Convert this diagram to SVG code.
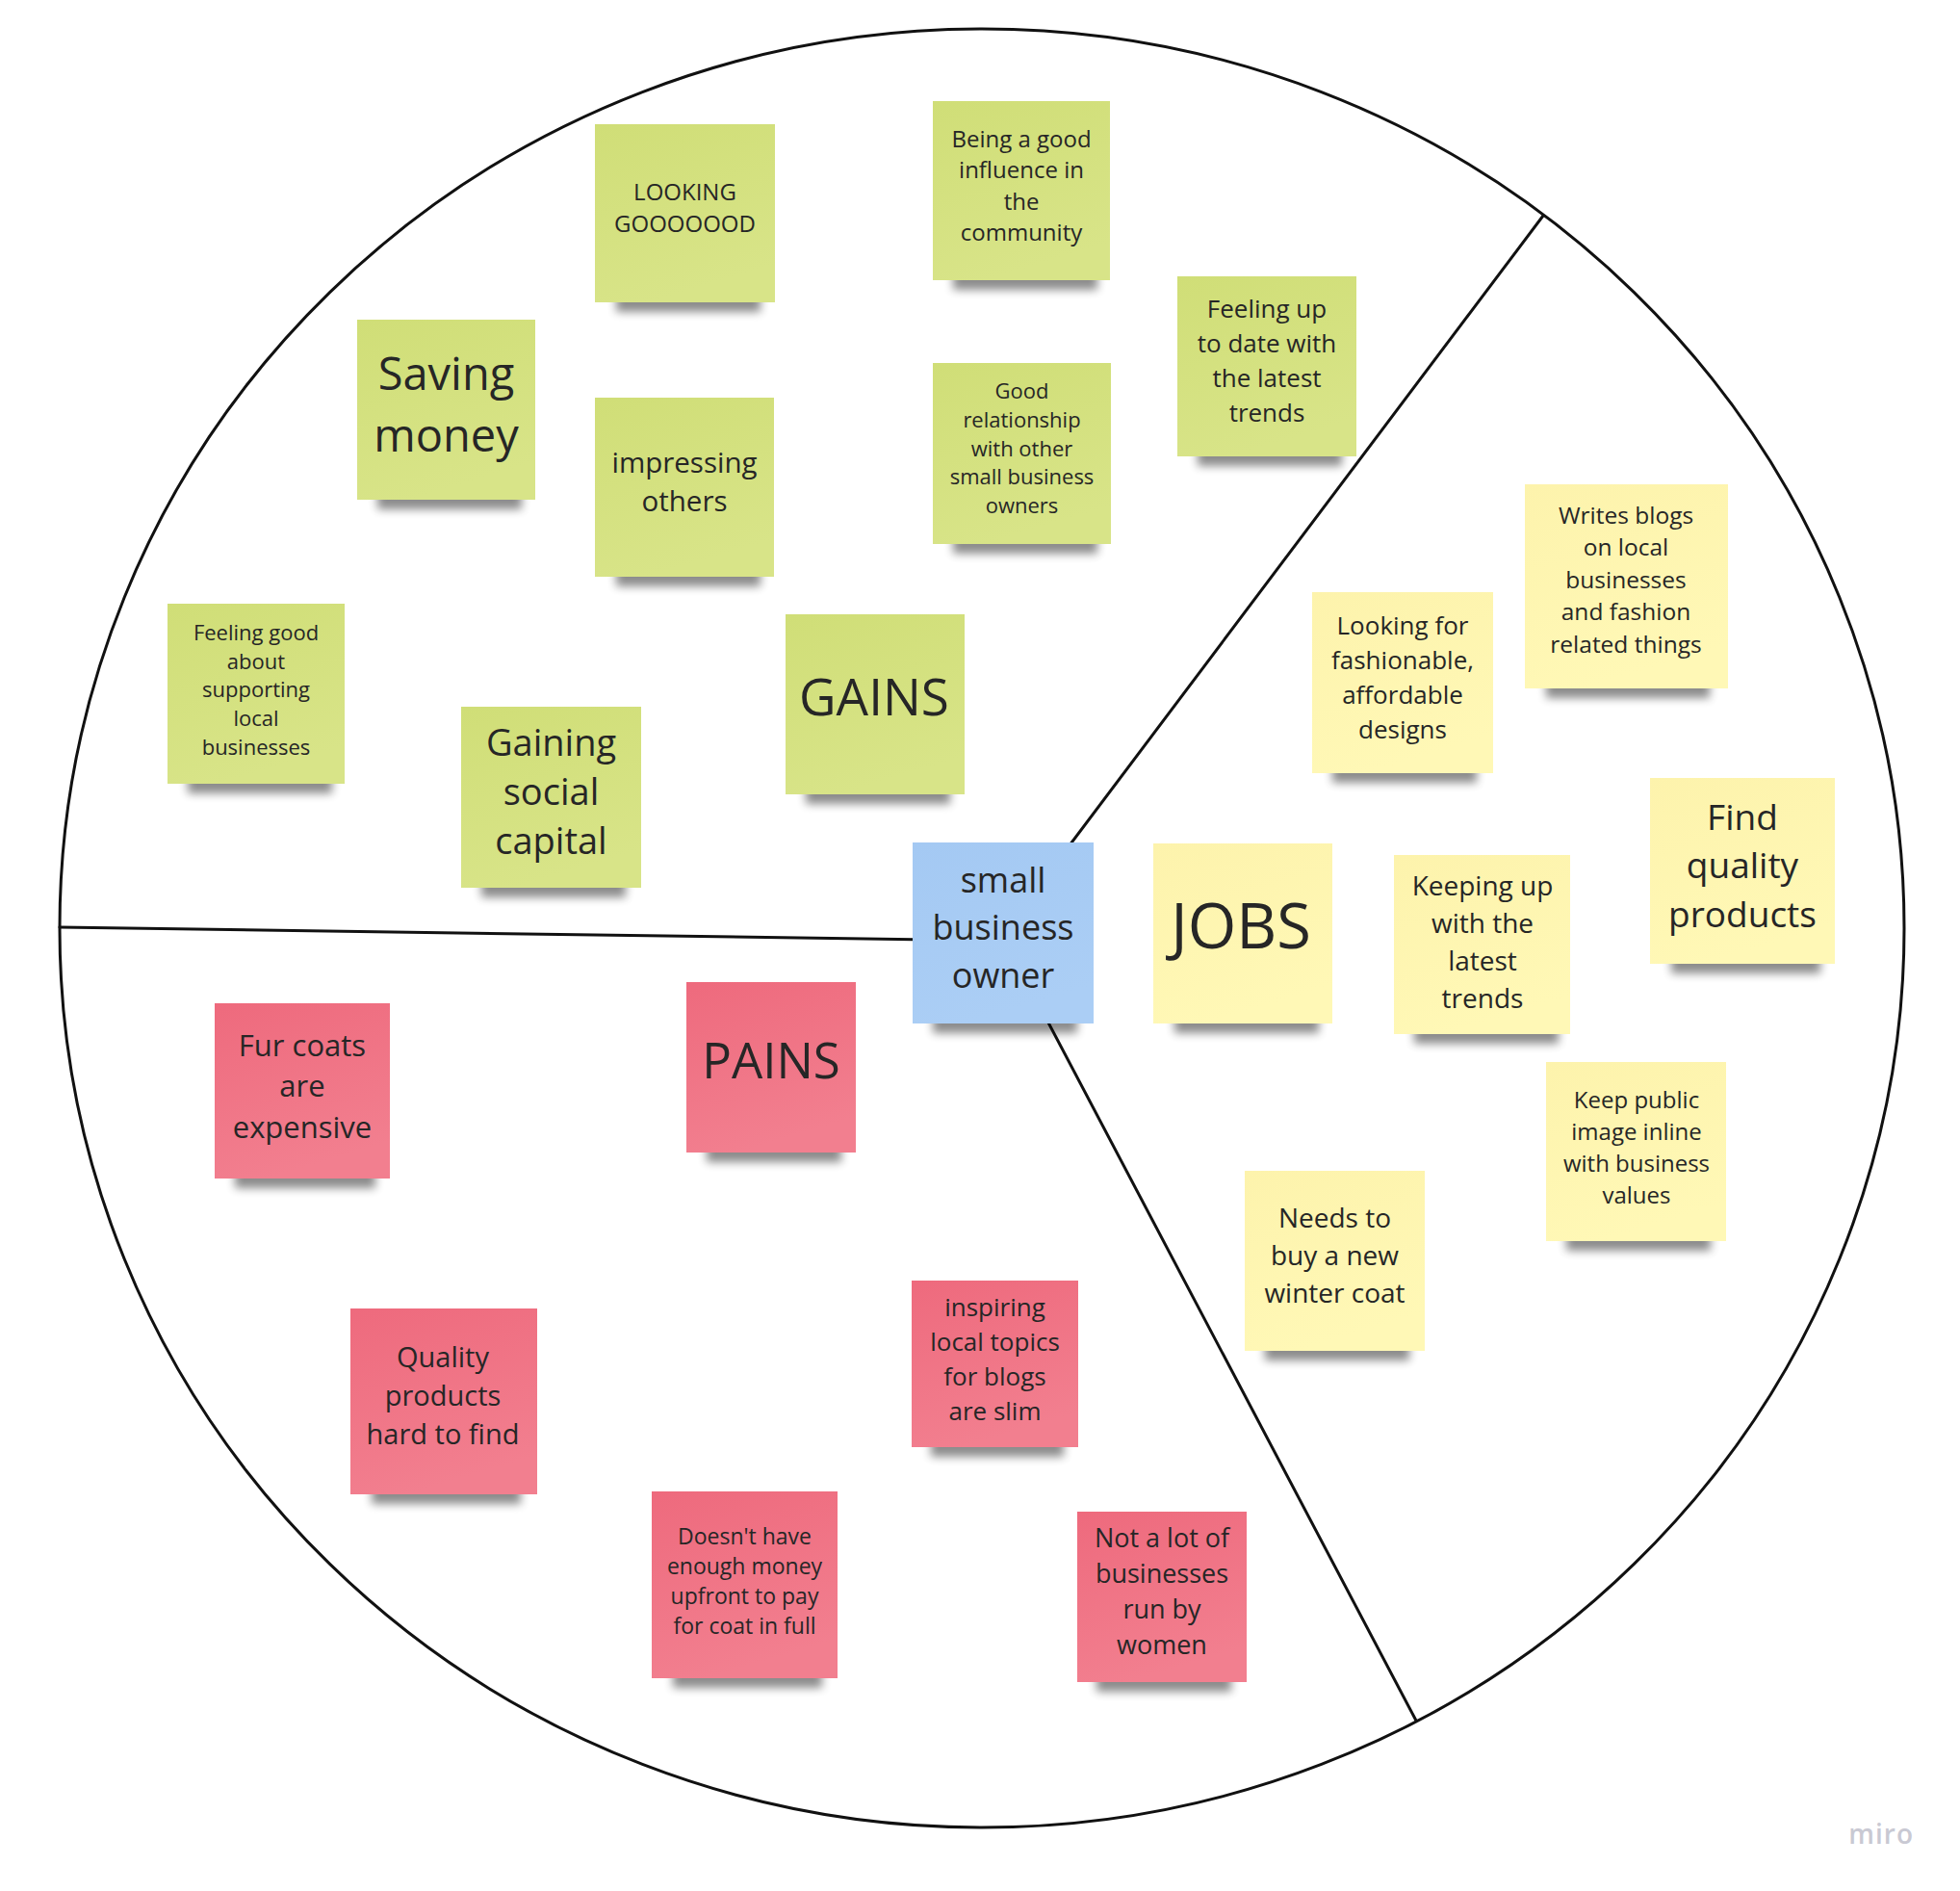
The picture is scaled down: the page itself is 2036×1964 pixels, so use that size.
<svg xmlns="http://www.w3.org/2000/svg" width="2036" height="1964" viewBox="0 0 2036 1964">
<style>
  .line { stroke: #111111; stroke-width: 3; fill: none; stroke-linecap: round; }
  .t { font-family: "Open Sans", "Noto Sans", "Liberation Sans", sans-serif; fill: #262626; text-anchor: middle; }
  .shadow { fill: #000000; opacity: 0.45; filter: url(#blur); }
  .green { fill: url(#gGreen); }
  .yellow { fill: url(#gYellow); }
  .red { fill: url(#gRed); }
  .blue { fill: url(#gBlue); }
  .wm { font-family: "Open Sans", "Noto Sans", sans-serif; font-weight: 600; fill: #c9c9d3; text-anchor: end; }
</style>
<defs>
  <filter id="blur" x="-20%" y="-50%" width="140%" height="200%">
    <feGaussianBlur stdDeviation="5"/>
  </filter>
  <linearGradient id="gGreen" x1="0" y1="0" x2="0.3" y2="1">
    <stop offset="0" stop-color="#d0de77"/>
    <stop offset="1" stop-color="#d8e488"/>
  </linearGradient>
  <linearGradient id="gYellow" x1="0" y1="0" x2="0.3" y2="1">
    <stop offset="0" stop-color="#fdf3ac"/>
    <stop offset="1" stop-color="#fff8b6"/>
  </linearGradient>
  <linearGradient id="gRed" x1="0" y1="0" x2="0.3" y2="1">
    <stop offset="0" stop-color="#ee6a7d"/>
    <stop offset="1" stop-color="#f27f8f"/>
  </linearGradient>
  <linearGradient id="gBlue" x1="0" y1="0" x2="0.3" y2="1">
    <stop offset="0" stop-color="#a4c9f3"/>
    <stop offset="1" stop-color="#abcef5"/>
  </linearGradient>
</defs>
<rect x="0" y="0" width="2036" height="1964" fill="#ffffff"/>

<g id="frame">
  <ellipse cx="1020" cy="964" rx="958" ry="934" class="line"/>
</g>

<g id="connectors">
  <line class="line" x1="62" y1="963" x2="1041" y2="977"/>
  <line class="line" x1="1603" y1="224" x2="1041" y2="971"/>
  <line class="line" x1="1471" y1="1787" x2="1041" y2="971"/>
</g>

<g id="n-looking-good">
  <rect class="shadow" x="640" y="300" width="150" height="24"/>
  <rect class="green" x="618" y="129" width="187" height="185"/>
  <text class="t" font-size="24" x="711.5"><tspan y="208">LOOKING</tspan><tspan x="711.5" y="240.5">GOOOOOOD</tspan></text>
</g>

<g id="n-good-influence">
  <rect class="shadow" x="990" y="277" width="150" height="24"/>
  <rect class="green" x="969" y="105" width="184" height="186"/>
  <text class="t" font-size="24" x="1061"><tspan y="152.5">Being a good</tspan><tspan x="1061" y="185">influence in</tspan><tspan x="1061" y="217.5">the</tspan><tspan x="1061" y="250">community</tspan></text>
</g>

<g id="n-saving-money">
  <rect class="shadow" x="392" y="505" width="150" height="24"/>
  <rect class="green" x="371" y="332" width="185" height="187"/>
  <text class="t" font-size="47" x="463.5"><tspan y="405">Saving</tspan><tspan x="463.5" y="469">money</tspan></text>
</g>

<g id="n-impressing">
  <rect class="shadow" x="640" y="585" width="150" height="24"/>
  <rect class="green" x="618" y="413" width="186" height="186"/>
  <text class="t" font-size="29.5" x="711"><tspan y="491">impressing</tspan><tspan x="711" y="531">others</tspan></text>
</g>

<g id="n-good-relationship">
  <rect class="shadow" x="990" y="551" width="150" height="24"/>
  <rect class="green" x="969" y="377" width="185" height="188"/>
  <text class="t" font-size="22" x="1061.5"><tspan y="414">Good</tspan><tspan x="1061.5" y="444">relationship</tspan><tspan x="1061.5" y="473.5">with other</tspan><tspan x="1061.5" y="503">small business</tspan><tspan x="1061.5" y="533">owners</tspan></text>
</g>

<g id="n-feeling-up-to-date">
  <rect class="shadow" x="1244" y="460" width="150" height="24"/>
  <rect class="green" x="1223" y="287" width="186" height="187"/>
  <text class="t" font-size="26" x="1316"><tspan y="330">Feeling up</tspan><tspan x="1316" y="366">to date with</tspan><tspan x="1316" y="402">the latest</tspan><tspan x="1316" y="438">trends</tspan></text>
</g>

<g id="n-feeling-good">
  <rect class="shadow" x="195" y="800" width="150" height="24"/>
  <rect class="green" x="174" y="627" width="184" height="187"/>
  <text class="t" font-size="22" x="266"><tspan y="664.5">Feeling good</tspan><tspan x="266" y="694.5">about</tspan><tspan x="266" y="724">supporting</tspan><tspan x="266" y="753.5">local</tspan><tspan x="266" y="783.5">businesses</tspan></text>
</g>

<g id="n-social-capital">
  <rect class="shadow" x="500" y="908" width="150" height="24"/>
  <rect class="green" x="479" y="734" width="187" height="188"/>
  <text class="t" font-size="38" x="572.5"><tspan y="785">Gaining</tspan><tspan x="572.5" y="836">social</tspan><tspan x="572.5" y="887">capital</tspan></text>
</g>

<g id="n-gains">
  <rect class="shadow" x="837" y="811" width="150" height="24"/>
  <rect class="green" x="816" y="638" width="186" height="187"/>
  <text class="t" font-size="53" x="908" y="743">GAINS</text>
</g>

<g id="n-small-business-owner">
  <rect class="shadow" x="969" y="1049" width="150" height="24"/>
  <rect class="blue" x="948" y="875" width="188" height="188"/>
  <text class="t" font-size="36" x="1042"><tspan y="927">small</tspan><tspan x="1042" y="976">business</tspan><tspan x="1042" y="1025.5">owner</tspan></text>
</g>

<g id="n-looking-for">
  <rect class="shadow" x="1384" y="789" width="150" height="24"/>
  <rect class="yellow" x="1363" y="615" width="188" height="188"/>
  <text class="t" font-size="26" x="1457"><tspan y="658.5">Looking for</tspan><tspan x="1457" y="694.5">fashionable,</tspan><tspan x="1457" y="730.5">affordable</tspan><tspan x="1457" y="766.5">designs</tspan></text>
</g>

<g id="n-writes-blogs">
  <rect class="shadow" x="1606" y="701" width="170" height="24"/>
  <rect class="yellow" x="1584" y="503" width="211" height="212"/>
  <text class="t" font-size="24.5" x="1689"><tspan y="543.6">Writes blogs</tspan><tspan x="1689" y="577">on local</tspan><tspan x="1689" y="610.6">businesses</tspan><tspan x="1689" y="644.2">and fashion</tspan><tspan x="1689" y="677.6">related things</tspan></text>
</g>

<g id="n-jobs">
  <rect class="shadow" x="1220" y="1049" width="150" height="24"/>
  <rect class="yellow" x="1198" y="876" width="186" height="187"/>
  <text class="t" font-size="65" x="1289" y="985">JOBS</text>
</g>

<g id="n-keeping-up">
  <rect class="shadow" x="1469" y="1060" width="150" height="24"/>
  <rect class="yellow" x="1448" y="888" width="183" height="186"/>
  <text class="t" font-size="28" x="1540"><tspan y="929.5">Keeping up</tspan><tspan x="1540" y="968.5">with the</tspan><tspan x="1540" y="1007.5">latest</tspan><tspan x="1540" y="1046.5">trends</tspan></text>
</g>

<g id="n-find-quality">
  <rect class="shadow" x="1736" y="987" width="155" height="24"/>
  <rect class="yellow" x="1714" y="808" width="192" height="193"/>
  <text class="t" font-size="37" x="1810"><tspan y="861.5">Find</tspan><tspan x="1810" y="912">quality</tspan><tspan x="1810" y="962.5">products</tspan></text>
</g>

<g id="n-keep-public-image">
  <rect class="shadow" x="1627" y="1275" width="150" height="24"/>
  <rect class="yellow" x="1606" y="1103" width="187" height="186"/>
  <text class="t" font-size="24" x="1700"><tspan y="1151">Keep public</tspan><tspan x="1700" y="1184">image inline</tspan><tspan x="1700" y="1217">with business</tspan><tspan x="1700" y="1250">values</tspan></text>
</g>

<g id="n-winter-coat">
  <rect class="shadow" x="1314" y="1389" width="150" height="24"/>
  <rect class="yellow" x="1293" y="1216" width="187" height="187"/>
  <text class="t" font-size="28" x="1386.5"><tspan y="1275">Needs to</tspan><tspan x="1386.5" y="1314">buy a new</tspan><tspan x="1386.5" y="1353">winter coat</tspan></text>
</g>

<g id="n-fur-coats">
  <rect class="shadow" x="244" y="1210" width="146" height="24"/>
  <rect class="red" x="223" y="1042" width="182" height="182"/>
  <text class="t" font-size="31" x="314"><tspan y="1096.5">Fur coats</tspan><tspan x="314" y="1139">are</tspan><tspan x="314" y="1181.5">expensive</tspan></text>
</g>

<g id="n-pains">
  <rect class="shadow" x="734" y="1183" width="140" height="24"/>
  <rect class="red" x="713" y="1020" width="176" height="177"/>
  <text class="t" font-size="51" x="801" y="1119.5">PAINS</text>
</g>

<g id="n-quality-products">
  <rect class="shadow" x="386" y="1538" width="155" height="24"/>
  <rect class="red" x="364" y="1359" width="194" height="193"/>
  <text class="t" font-size="29" x="460"><tspan y="1420">Quality</tspan><tspan x="460" y="1460">products</tspan><tspan x="460" y="1500">hard to find</tspan></text>
</g>

<g id="n-inspiring-topics">
  <rect class="shadow" x="967" y="1489" width="138" height="24"/>
  <rect class="red" x="947" y="1330" width="173" height="173"/>
  <text class="t" font-size="26" x="1033.5"><tspan y="1366.5">inspiring</tspan><tspan x="1033.5" y="1402.5">local topics</tspan><tspan x="1033.5" y="1438.5">for blogs</tspan><tspan x="1033.5" y="1474.5">are slim</tspan></text>
</g>

<g id="n-doesnt-have-money">
  <rect class="shadow" x="699" y="1729" width="155" height="24"/>
  <rect class="red" x="677" y="1549" width="193" height="194"/>
  <text class="t" font-size="23" x="773.5"><tspan y="1603.5">Doesn't have</tspan><tspan x="773.5" y="1634.5">enough money</tspan><tspan x="773.5" y="1665.5">upfront to pay</tspan><tspan x="773.5" y="1696.5">for coat in full</tspan></text>
</g>

<g id="n-not-a-lot-of-businesses">
  <rect class="shadow" x="1139" y="1733" width="140" height="24"/>
  <rect class="red" x="1119" y="1570" width="176" height="177"/>
  <text class="t" font-size="27" x="1207"><tspan y="1607">Not a lot of</tspan><tspan x="1207" y="1644">businesses</tspan><tspan x="1207" y="1681">run by</tspan><tspan x="1207" y="1718">women</tspan></text>
</g>

<text class="wm" font-size="28" x="1988" y="1915" letter-spacing="1">miro</text>
</svg>
